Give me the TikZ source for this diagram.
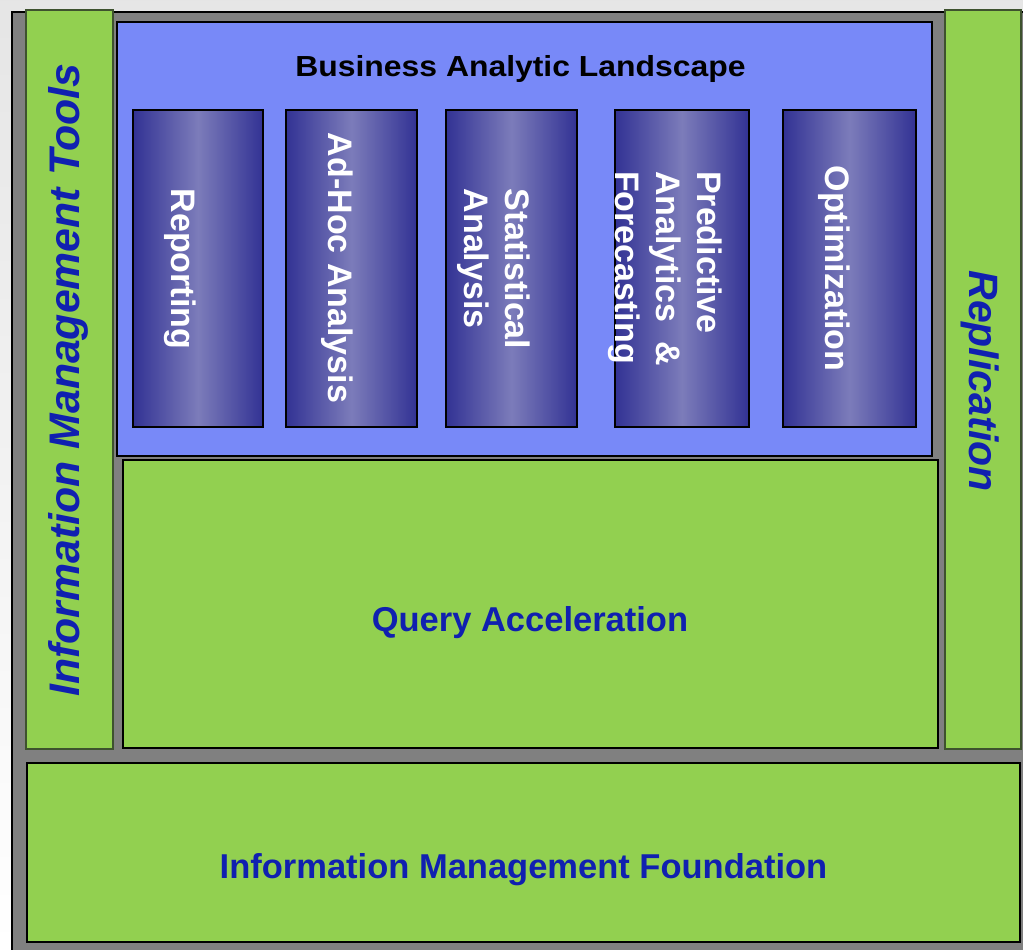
\documentclass[tikz,border=0pt]{standalone}
\usepackage{fontspec}
\setmainfont{Liberation Sans}
\definecolor{framegray}{RGB}{128, 128, 128}
\definecolor{imgreen}{RGB}{146, 208, 80}
\definecolor{sidegreen}{RGB}{62, 82, 46}
\definecolor{landblue}{RGB}{120, 137, 248}
\definecolor{coldark}{RGB}{50, 50, 148}
\definecolor{collight}{RGB}{124, 124, 186}
\definecolor{imblue}{RGB}{16, 32, 176}

\begin{document}
\begin{tikzpicture}[
      x=1pt, y=-1pt,
      panel/.style={draw, line width=2pt, inner sep=0pt, outer sep=0pt},
      sidebar/.style={panel, draw=sidegreen, fill=imgreen},
      greenbox/.style={panel, line width=1.6pt, fill=imgreen},
      colbox/.style={draw, line width=1.5pt, inner sep=0pt, minimum height=317,
        left color=coldark, right color=coldark, middle color=collight},
      coltext/.style={text=white, align=left, rotate=-90,
        font=\bfseries\fontsize{34}{41}\selectfont},
      sidetext/.style={text=imblue, font=\bfseries\itshape\fontsize{41}{48}\selectfont},
      bluetext/.style={text=imblue, anchor=base, font=\bfseries\fontsize{34.5}{40}\selectfont}
    ]
      \useasboundingbox[top color=black!10, bottom color=white] (0,0) rectangle (1023,950);

      % Frame
      \node[panel, fill=framegray, minimum width=1018, minimum height=948] (frame) at (521,486) {};

      % Side bars
      \node[sidebar, minimum width=87, minimum height=739] (tools) at (69.5,379.5) {};
      \node[sidebar, minimum width=76, minimum height=739] (replication) at (983,379.5) {};
      \node[sidetext, rotate=90, font=\bfseries\itshape\fontsize{42.8}{48}\selectfont] (toolstext)
        at (68,380) {Information Management Tools};
      \node[sidetext, rotate=-90] (replicationtext) at (980,381) {Replication};

      % Business Analytic Landscape
      \node[panel, fill=landblue, minimum width=815, minimum height=434] (landscape) at (524.5,239) {};
      \node[anchor=base, font=\bfseries\fontsize{29}{34}\selectfont] (landtitle) at (520.5,77)
        {\scalebox{1.1}[1]{Business Analytic Landscape}};

      % Columns
      \node[colbox, minimum width=130] (reporting) at (198,268.5) {};
      \node[colbox, minimum width=131] (adhoc) at (351.5,268.5) {};
      \node[colbox, minimum width=131] (statistical) at (511.5,268.5) {};
      \node[colbox, minimum width=134] (predictive) at (682,268.5) {};
      \node[colbox, minimum width=133] (optimization) at (849.5,268.5) {};

      \node[coltext] (reportingtext) at (180,269) {Reporting};
      \node[coltext] (adhoctext) at (337,268) {Ad-Hoc Analysis};
      \node[coltext] (statisticaltext) at (494,269) {Statistical\\Analysis};
      \node[coltext] (predictivetext) at (665,268.5) {Predictive\\Analytics~~\&\\Forecasting};
      \node[coltext] (optimizationtext) at (834,268.5) {Optimization};

      % Query Acceleration
      \node[greenbox, minimum width=815, minimum height=288] (query) at (530.5,604) {};
      \node[bluetext] (querytext) at (530,631) {Query Acceleration};

      % Foundation
      \node[greenbox, minimum width=993, minimum height=179] (foundation) at (523.5,852.5) {};
      \node[bluetext] (foundationtext) at (523.5,878) {Information Management Foundation};
    \end{tikzpicture}
\end{document}
